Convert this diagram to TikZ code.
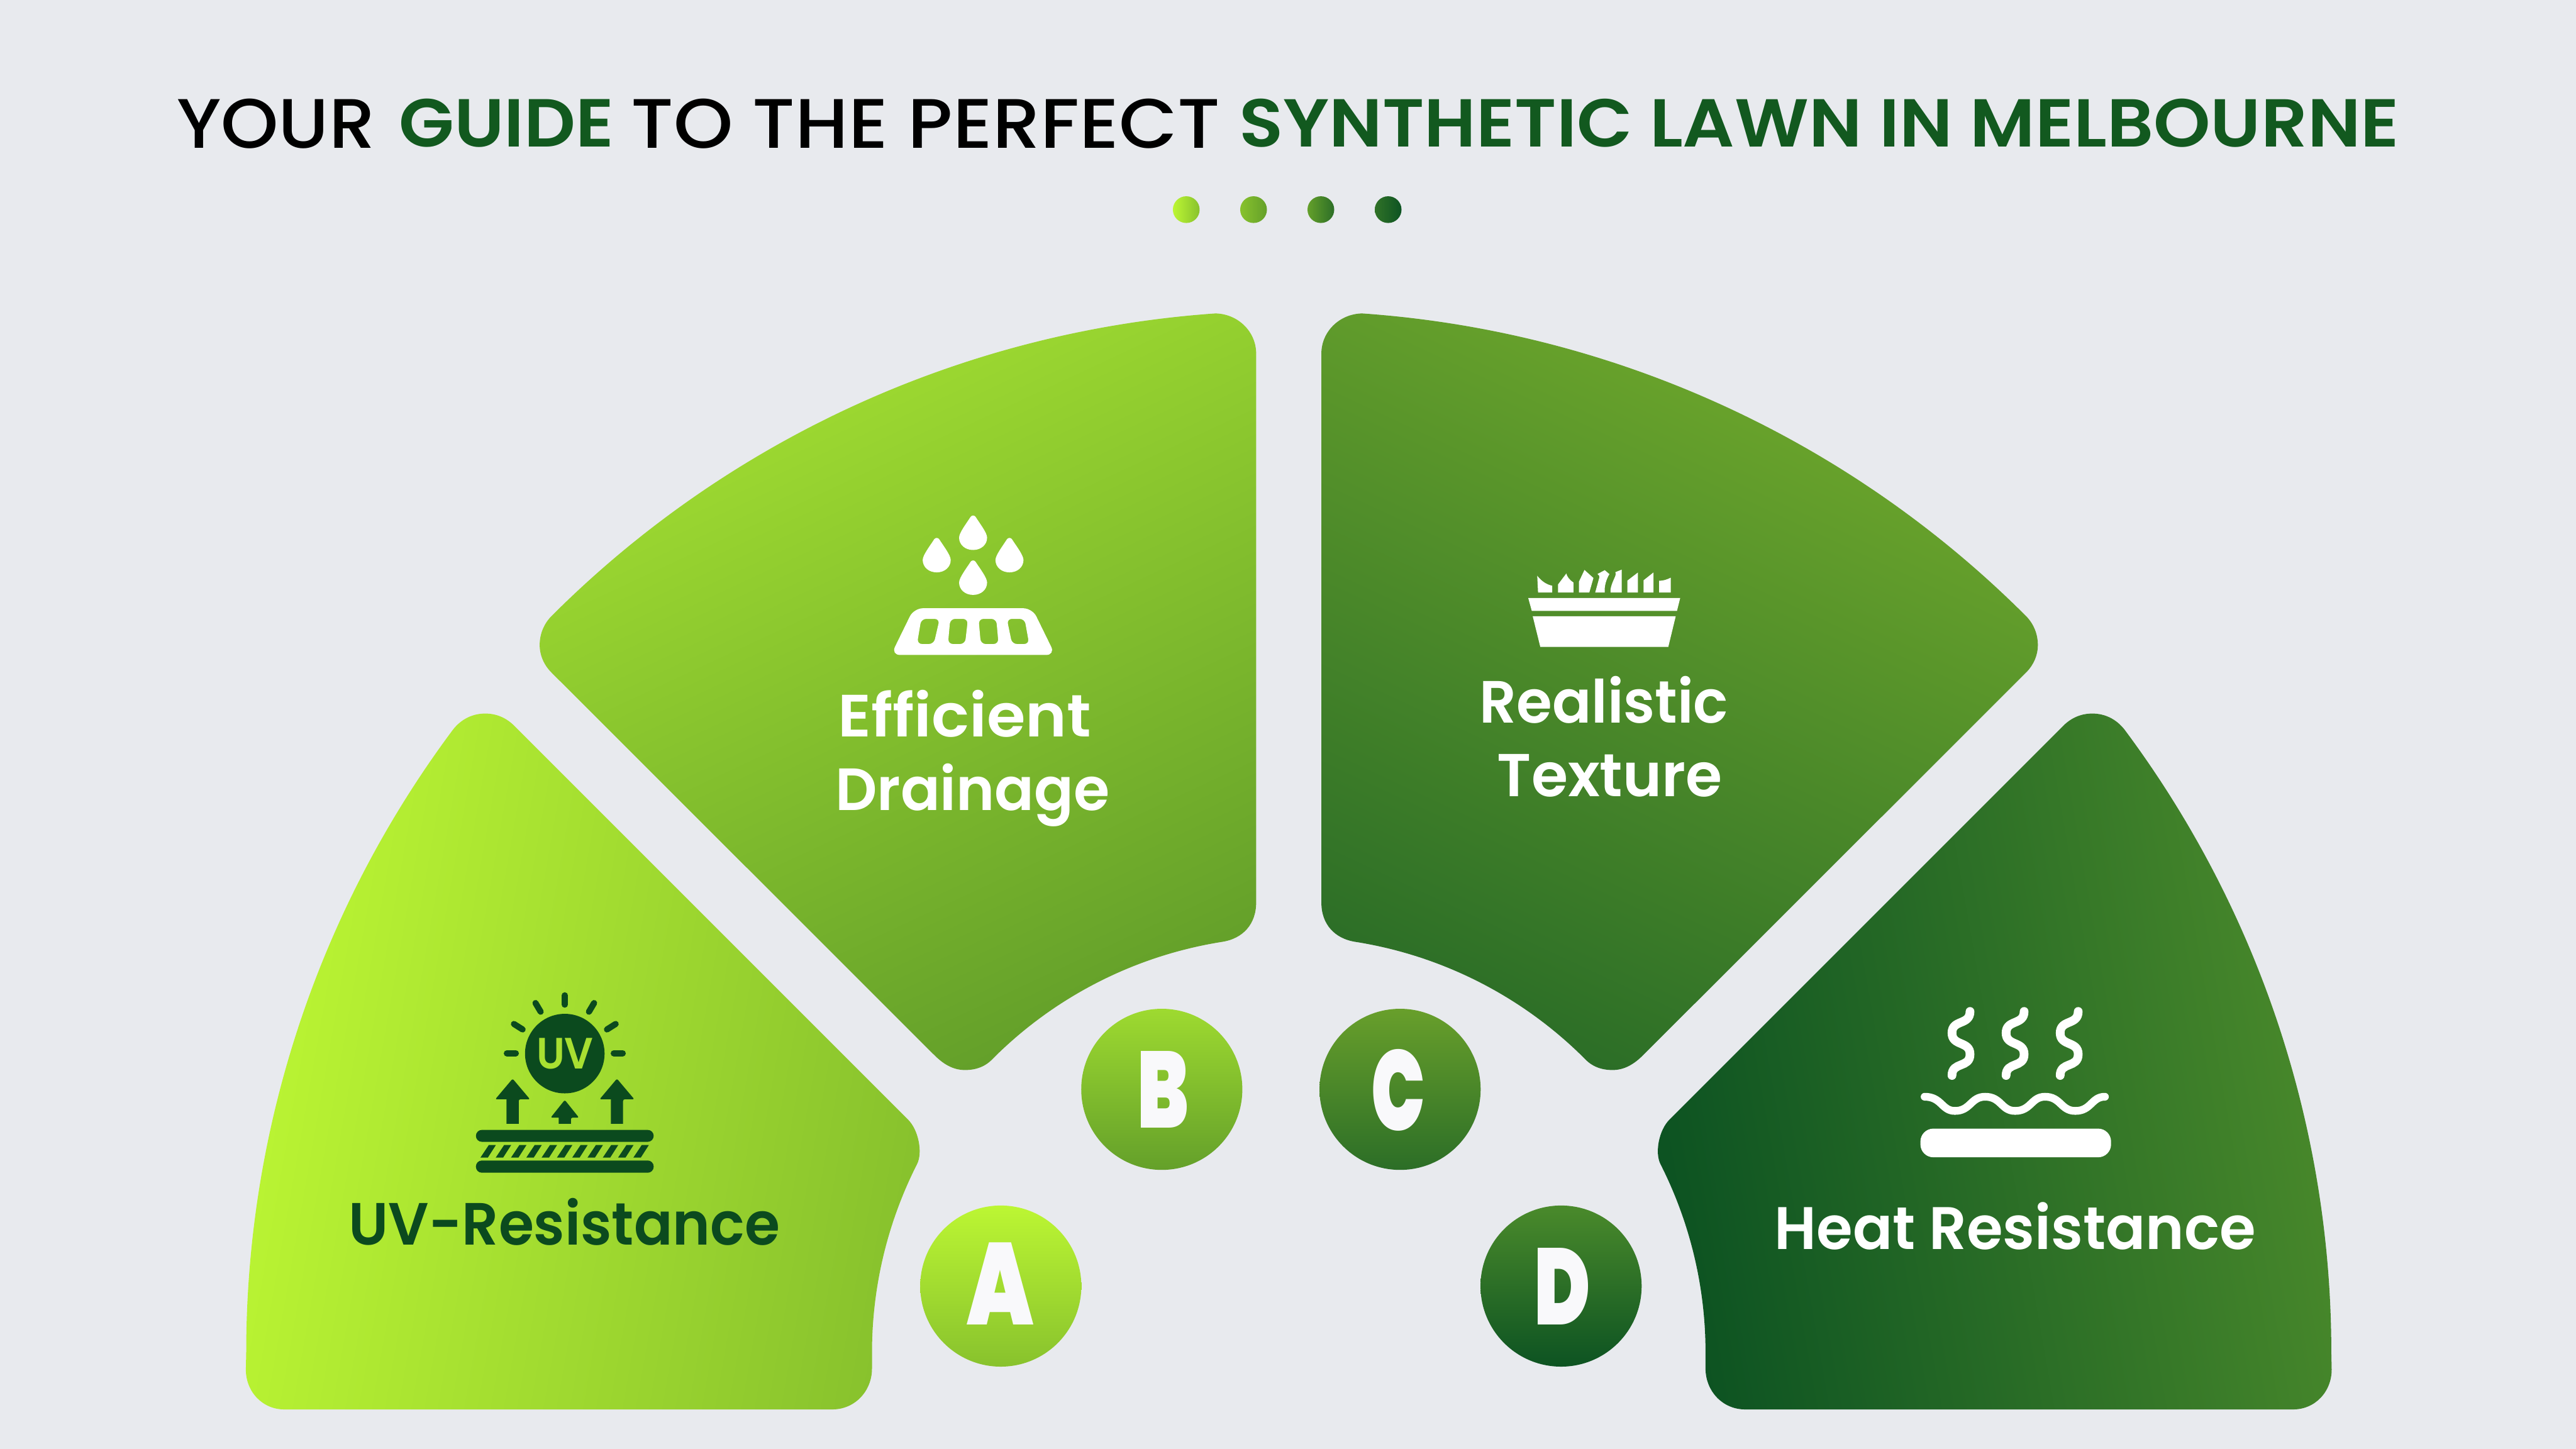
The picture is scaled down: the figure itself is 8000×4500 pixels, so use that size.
\documentclass[tikz,border=0pt]{standalone}
\usepackage{fontspec}
\setmainfont{Poppins}
\newfontfamily\pmed{Poppins Medium}[Ligatures=CommonOff]
\newfontfamily\psemi{Poppins SemiBold}[Ligatures=CommonOff]
\newfontfamily\lett{Poppins Black}
\definecolor{bg}{HTML}{E8EAEE}
\definecolor{tgreen}{HTML}{12591F}
\definecolor{dk}{HTML}{0B4A1E}
\definecolor{uvl}{HTML}{A8E031}
\definecolor{lw}{HTML}{F9F9FB}
\definecolor{ca}{HTML}{BCF633}\definecolor{cb}{HTML}{88C22D}
\definecolor{cc}{HTML}{9EDA30}\definecolor{cd}{HTML}{64A02A}
\definecolor{ce}{HTML}{689F2B}\definecolor{cf}{HTML}{2C6E27}
\definecolor{cg}{HTML}{4A8A2B}\definecolor{ch}{HTML}{0D5322}
\definecolor{sb}{HTML}{A3DF31}\definecolor{sc}{HTML}{70A92C}
\def\pathA{(1406,2267) arc[start angle=216.7,end angle=180,radius=3235]
  -- (763.5,4253) .. controls (763.5,4322) and (815,4377) .. (883,4377) -- (2585,4377)
  .. controls (2655,4377) and (2708,4320) .. (2708,4250) -- (2708,4200)
  arc[start angle=180,end angle=206.9,radius=1292]
  .. controls (2866,3580) and (2853,3510) .. (2820,3477) -- (1595,2252)
  .. controls (1570,2228) and (1540,2216) .. (1507,2216)
  .. controls (1468,2216) and (1432,2233) .. (1406,2267) -- cycle}
\def\pathB{(1713,1913) arc[start angle=225,end angle=266,radius=3235]
  .. controls (3845,975) and (3901,1030) .. (3901,1098) -- (3901,2803)
  .. controls (3901,2870) and (3860,2915) .. (3795,2925)
  arc[start angle=261,end angle=225,radius=1292]
  .. controls (3060,3313) and (3030,3323) .. (2997,3323)
  .. controls (2960,3323) and (2930,3305) .. (2901,3276) -- (1713,2089)
  .. controls (1690,2066) and (1676,2036) .. (1676,2003)
  .. controls (1676,1968) and (1690,1936) .. (1713,1913) -- cycle}
\tikzset{
  lbl/.style={anchor=base west,inner sep=0pt,outer sep=0pt},
  tdot/.style={circle,inner sep=0pt,minimum size=0.83cm},
  badge/.style={circle,inner sep=0pt,minimum size=5cm},
  letter/.style={inner sep=0pt,outer sep=0pt,text=lw},
  ink/.style={fill=dk,draw=none},
  ray/.style={draw=dk,line width=0.19cm,line cap=round},
  steam/.style={draw=white,line width=0.27cm,line cap=round},
}
\begin{document}
\begin{tikzpicture}[x=0.01cm,y=-0.01cm]
\useasboundingbox (0,0) rectangle (8000,4500);
\fill[bg] (0,0) rectangle (8000,4500);

% title
\node[lbl] (t1) at (549,459) {\resizebox{6.16cm}{1.53cm}{\pmed\color{black}YOUR}};
\node[lbl] (t2) at (1239,457) {\resizebox{6.67cm}{1.49cm}{\psemi\color{tgreen}GUIDE}};
\node[lbl] (t3) at (1960,459) {\resizebox{18.28cm}{1.53cm}{\pmed\color{black}TO THE PERFECT}};
\node[lbl] (t4) at (3848,457) {\resizebox{36.01cm}{1.49cm}{\psemi\color{tgreen}SYNTHETIC LAWN IN MELBOURNE}};

% title dots
\node[tdot,shade,left color=ca,right color=cb] (d1) at (3684,651) {};
\node[tdot,shade,left color=cb,right color=cd] (d2) at (3893,651) {};
\node[tdot,shade,left color=cd,right color=cf] (d3) at (4102,651) {};
\node[tdot,shade,left color=cf!85!cg,right color=ch] (d4) at (4311,651) {};

% sectors
\shade[top color=ca,bottom color=cb,shading angle=80] \pathA;
\shade[top color=sb,bottom color=cd,shading angle=25] \pathB;
\begin{scope}[xshift=80cm,xscale=-1]
\shade[top color=sc,bottom color=cf,shading angle=-25] \pathB;
\shade[top color=cg,bottom color=ch,shading angle=-80] \pathA;
\end{scope}

% badges
\node[badge,shade,top color=ca,bottom color=cb] (cA) at (3108,3994) {};
\node[badge,shade,top color=cc,bottom color=cd] (cB) at (3608,3383) {};
\node[badge,shade,top color=ce,bottom color=cf] (cC) at (4348,3383) {};
\node[badge,shade,top color=cg,bottom color=ch] (cD) at (4848,3994) {};
\node[letter] (lA) at (3107,3987) {\resizebox{2.07cm}{2.55cm}{\lett A}};
\node[letter] (lB) at (3612,3384) {\resizebox{1.60cm}{2.38cm}{\lett B}};
\node[letter] (lC) at (4343,3385) {\resizebox{1.67cm}{2.52cm}{\lett C}};
\node[letter] (lD) at (4853,3995) {\resizebox{1.75cm}{2.38cm}{\lett D}};

% UV icon
\fill[ink] (1754,3272) circle[radius=123.5];
\foreach \a/\b/\c/\d in {1754/3091/1754/3120,1574/3271/1602/3271,1906/3271/1934/3271,
  1663/3115/1679/3142,1845/3115/1829/3142,1596/3180/1623/3197,1912/3180/1885/3197}
  \draw[ray] (\a,\b) -- (\c,\d);
\foreach \s in {1592,1916} {
  \fill[ink,rounded corners=0.05cm] (\s,3350) -- (\s+54,3414) -- (\s+19,3414) [sharp corners] -- (\s+19,3490) -- (\s-19,3490) -- (\s-19,3414) [rounded corners=0.05cm] -- (\s-54,3414) -- cycle;
}
\fill[ink,rounded corners=0.05cm] (1754,3416) -- (1798,3471) -- (1773,3471) [sharp corners] -- (1773,3490) -- (1735,3490) -- (1735,3471) [rounded corners=0.05cm] -- (1710,3471) -- cycle;
\fill[ink,rounded corners=0.185cm] (1478,3509) rectangle (2030,3546);
\fill[ink,rounded corners=0.185cm] (1478,3604) rectangle (2030,3642);
\foreach \i in {0,...,10}
  \fill[ink] ({1518+47.5*\i},3556) -- ({1540+47.5*\i},3556) -- ({1515+47.5*\i},3595) -- ({1492+47.5*\i},3595) -- cycle;
\node[lbl] (uv) at (1666,3320) {\resizebox{1.77cm}{0.95cm}{\psemi\color{uvl}UV}};

% drainage icon
\foreach \x/\y in {3022/1599.5,2909/1669,3135/1669,3022/1739}
  \fill[white,shift={(\x,\y)}] (-8,6) .. controls (-20,25) and (-43.5,55) .. (-43.5,70)
    .. controls (-43.5,92) and (-25,108.5) .. (0,108.5)
    .. controls (25,108.5) and (43.5,92) .. (43.5,70)
    .. controls (43.5,55) and (20,25) .. (8,6) .. controls (4,0) and (-4,0) .. (-8,6) -- cycle;
\fill[white,even odd rule,rounded corners=0.28cm]
  (2838,1889) -- (3206,1889) -- (3277,2034) -- (2767,2034) -- cycle
  [rounded corners=0.15cm]
  (2861,1922) -- (2918,1922) -- (2900,2000) -- (2848,2000) -- cycle
  (2951,1922) -- (3006,1922) -- (2997,2000) -- (2944,2000) -- cycle
  (3039,1922) -- (3094,1922) -- (3101,2000) -- (3046,2000) -- cycle
  (3127,1922) -- (3182,1922) -- (3196,2000) -- (3143,2000) -- cycle;

% pot icon
\fill[white] (4746,1857) -- (5218,1857) -- (5208,1897) -- (4757,1897) -- cycle;
\fill[white] (4760,1914) -- (5204,1914) -- (5181,2009) -- (4783.5,2009) -- cycle;
\fill[white] (4776.5,1840) -- (4820.4,1840) -- (4820.4,1819) .. controls (4800,1815) and (4785,1802) .. (4774,1788) -- cycle;
\fill[white] (4838.6,1840) -- (4886.3,1840) -- (4886.3,1809) .. controls (4875,1802) and (4866,1790) .. (4864.3,1781) -- (4838.6,1815) -- cycle;
\fill[white] (4903.7,1840) -- (4935.7,1840) -- (4948.5,1795) -- (4920.7,1770) -- (4903.7,1806) -- cycle;
\fill[white] (4954,1840) -- (4983.7,1840) .. controls (4982,1820) and (4988,1800) .. (4998,1783) -- (4983.7,1770.7) -- (4961,1782.7) .. controls (4966,1786) and (4968,1790) .. (4967,1793) -- cycle;
\fill[white] (5001.6,1840) -- (5036.4,1840) -- (5036.4,1769) -- (5016.5,1777) .. controls (5019,1780) and (5018,1785) .. (5016,1790) .. controls (5008,1808) and (5000,1825) .. (5001.6,1840) -- cycle;
\fill[white] (5054,1840) -- (5086.6,1840) -- (5086.6,1778) -- (5054,1803) -- cycle;
\fill[white] (5104.4,1840) -- (5134.7,1840) -- (5134.7,1778) -- (5104.4,1802) -- cycle;
\fill[white] (5152.5,1840) -- (5188.5,1840) -- (5188.5,1794) .. controls (5177,1800) and (5165,1803.7) .. (5152.5,1803.7) -- cycle;

% heat icon
\foreach \dx in {0,168,336}
  \draw[steam] (6118+\dx,3141) .. controls (6118+\dx,3185) and (6062+\dx,3165) .. (6062+\dx,3208)
    .. controls (6062+\dx,3250) and (6118+\dx,3232) .. (6118+\dx,3274)
    .. controls (6118+\dx,3318) and (6062+\dx,3296) .. (6062+\dx,3340);
\draw[steam,line width=0.24cm] (5977,3406) .. controls (6030,3406) and (6030,3450) .. (6071,3450)
  .. controls (6120,3450) and (6120,3406) .. (6165,3406)
  .. controls (6215,3406) and (6215,3450) .. (6258,3450)
  .. controls (6308,3450) and (6308,3406) .. (6351,3406)
  .. controls (6400,3406) and (6400,3450) .. (6445,3450)
  .. controls (6495,3450) and (6495,3406) .. (6537,3406);
\fill[white,rounded corners=0.4cm] (5964,3505) rectangle (6556,3594);

% labels
\node[lbl] (uvr) at (1083,3867) {\resizebox{13.38cm}{1.45cm}{\psemi\color{dk}UV-Resistance}};
\node[lbl] (ef1) at (2602,2288) {\resizebox{7.86cm}{1.45cm}{\psemi\color{white}Efficient}};
\node[lbl] (ef2) at (2594,2517) {\resizebox{8.52cm}{1.45cm}{\psemi\color{white}Drainage}};
\node[lbl] (re1) at (4595,2245) {\resizebox{7.72cm}{1.45cm}{\psemi\color{white}Realistic}};
\node[lbl] (re2) at (4650,2474) {\resizebox{6.98cm}{1.31cm}{\psemi\color{white}Texture}};
\node[lbl] (hr) at (5511,3879) {\resizebox{14.94cm}{1.46cm}{\psemi\color{white}Heat Resistance}};
\end{tikzpicture}
\end{document}
